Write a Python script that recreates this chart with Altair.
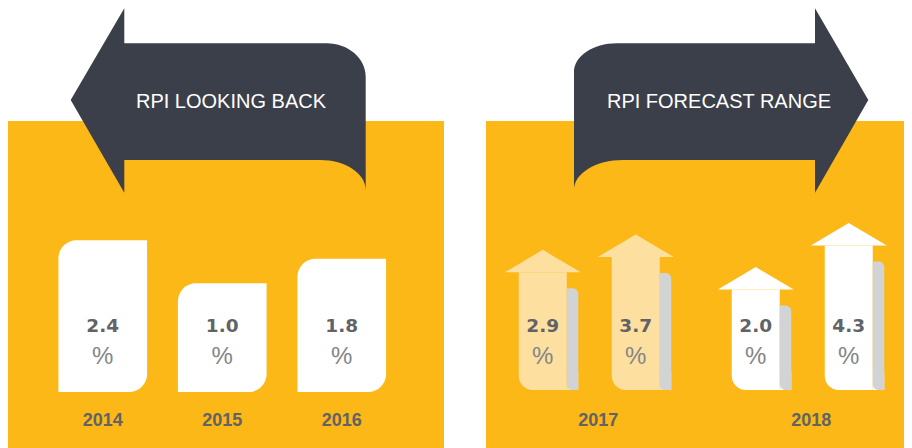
import altair as alt
import pandas as pd

# ---------------- data ----------------
titles = ["RPI LOOKING BACK", "RPI FORECAST RANGE"]
back_years = ["2014", "2015", "2016"]
back_values = [2.4, 1.0, 1.8]
fc_years = ["2017", "2017", "2018", "2018"]
fc_bounds = ["low", "high", "low", "high"]
fc_values = [2.9, 3.7, 2.0, 4.3]
fc_year_labels = ["2017", "2018"]

# ---------------- style ----------------
ORANGE = "#FBB817"
DARK = "#3B3F4A"
PALE = "#FDDFA0"
GREY = "#D1D3D4"
TEXT = "#616366"
PCT = "#838588"
SANS = "Liberation Sans, Arial, Helvetica, sans-serif"
NUMF = "DejaVu Sans"

LW, RW, H = 436, 418, 440
PANEL_TOP = 113

back = pd.DataFrame({"year": back_years, "value": back_values})
back["label"] = back["value"].map(lambda v: f"{v:.1f}")
back["pct"] = "%"
fc = pd.DataFrame({"year": fc_years, "bound": fc_bounds, "value": fc_values})
fc["label"] = fc["value"].map(lambda v: f"{v:.1f}")
fc["pct"] = "%"
fc_y = pd.DataFrame({"year": fc_year_labels})
one_l = pd.DataFrame({"t": [titles[0]]})
one_r = pd.DataFrame({"t": [titles[1]]})

# decorative banner outlines (pixel units, size=4 -> scale 1)
PATH_L = ("M 62.7 92 L 116.3 0.3 L 116.3 35.3 L 318.7 35.3 "
          "A 39 33.4 0 0 1 357.7 68.7 L 357.7 182 "
          "A 45.7 30 0 0 0 312 152 L 116.3 152 L 116.3 184.7 Z")
PATH_R = ("M 88 64 A 42.7 28.7 0 0 1 130.7 35.3 L 329 35.3 L 329 0.3 "
          "L 382.3 92 L 329 184.7 L 329 152 L 137 152 "
          "A 49 30 0 0 0 88 182 Z")
HEAD = "M -38 0 L 0 -22.5 L 38 0 Z"

# ---------------- left panel ----------------
xb = alt.X("year:N", axis=None,
           scale=alt.Scale(type="band", range=[35, 393.5],
                           paddingInner=0.258, paddingOuter=0.129))
yb = alt.Y("value:Q", axis=None, stack=None,
           scale=alt.Scale(domain=[-4.365, 9.967], zero=False, nice=False))

panel_l = alt.Chart(one_l).mark_rect(color=ORANGE).encode(
    x=alt.value(0), x2=alt.value(LW), y=alt.value(PANEL_TOP), y2=alt.value(H))
banner_l = alt.Chart(one_l).mark_point(
    shape=PATH_L, size=4, filled=True, opacity=1, color=DARK, strokeWidth=0
).encode(x=alt.value(0), y=alt.value(0))
title_l = alt.Chart(one_l).mark_text(
    font=SANS, fontSize=20, color="white", align="center", baseline="alphabetic"
).encode(x=alt.value(223), y=alt.value(100), text="t:N")
bars_l = alt.Chart(back).mark_bar(
    color="white", cornerRadiusTopLeft=18, cornerRadiusBottomRight=18
).encode(x=xb, y=yb, y2=alt.value(384))
val_l = alt.Chart(back).mark_text(
    font=NUMF, fontWeight="bold", fontSize=18.5, color=TEXT, baseline="alphabetic"
).encode(x=xb, y=alt.value(323.7), text="label:N")
pct_l = alt.Chart(back).mark_text(
    font=SANS, fontSize=24, color=PCT, baseline="alphabetic"
).encode(x=xb, y=alt.value(356), text="pct:N")
yr_l = alt.Chart(back).mark_text(
    font=SANS, fontWeight="bold", fontSize=18, color=TEXT, baseline="alphabetic"
).encode(x=xb, y=alt.value(418), text="year:N")

left = alt.layer(panel_l, banner_l, title_l, bars_l, val_l, pct_l, yr_l).properties(
    width=LW, height=H)

# ---------------- right panel ----------------
xr = alt.X("year:N", axis=None,
           scale=alt.Scale(type="band", range=[-3.25, 422.75],
                           paddingInner=0, paddingOuter=0))
yr = alt.Y("value:Q", axis=None, stack=None,
           scale=alt.Scale(domain=[-6.25, 16.67], zero=False, nice=False))


def off_shaft():
    return alt.XOffset("bound:N", sort=["low", "high"],
                       scale=alt.Scale(type="band", range=[13.5, 199.5],
                                       paddingInner=0.484, paddingOuter=0.242))


def off_grey():
    return alt.XOffset("bound:N", sort=["low", "high"],
                       scale=alt.Scale(type="band", range=[43.25, 229.25],
                                       paddingInner=0.876, paddingOuter=0.438))


col = alt.Color("year:N", legend=None,
                scale=alt.Scale(domain=fc_year_labels, range=[PALE, "#FFFFFF"]))

panel_r = alt.Chart(one_r).mark_rect(color=ORANGE).encode(
    x=alt.value(0), x2=alt.value(RW), y=alt.value(PANEL_TOP), y2=alt.value(H))
banner_r = alt.Chart(one_r).mark_point(
    shape=PATH_R, size=4, filled=True, opacity=1, color=DARK, strokeWidth=0
).encode(x=alt.value(0), y=alt.value(0))
title_r = alt.Chart(one_r).mark_text(
    font=SANS, fontSize=20, color="white", align="center", baseline="alphabetic"
).encode(x=alt.value(233), y=alt.value(100), text="t:N")
foot_r = alt.Chart(fc).mark_bar().encode(
    x=xr, xOffset=off_grey(), y=alt.value(364), y2=alt.value(382), color=col)
shaft_r = alt.Chart(fc).mark_bar(cornerRadiusBottomLeft=14).encode(
    x=xr, xOffset=off_shaft(), y=yr, y2=alt.value(382), color=col)
grey_r = alt.Chart(fc).mark_bar(
    color=GREY, yOffset=16, cornerRadiusTopRight=10, cornerRadiusBottomLeft=11
).encode(x=xr, xOffset=off_grey(), y=yr, y2=alt.value(382))
head_r = alt.Chart(fc).mark_point(
    shape=HEAD, size=4, filled=True, opacity=1, strokeWidth=0
).encode(x=xr, xOffset=off_shaft(), y=yr, color=col)
val_r = alt.Chart(fc).mark_text(
    font=NUMF, fontWeight="bold", fontSize=18.5, color=TEXT, baseline="alphabetic"
).encode(x=xr, xOffset=off_shaft(), y=alt.value(323.7), text="label:N")
pct_r = alt.Chart(fc).mark_text(
    font=SANS, fontSize=24, color=PCT, baseline="alphabetic"
).encode(x=xr, xOffset=off_shaft(), y=alt.value(356), text="pct:N")
yr_r = alt.Chart(fc_y).mark_text(
    font=SANS, fontWeight="bold", fontSize=18, color=TEXT, baseline="alphabetic", dx=9
).encode(x=xr, y=alt.value(418), text="year:N")

right = alt.layer(panel_r, banner_r, title_r, foot_r, shaft_r, grey_r, head_r,
                  val_r, pct_r, yr_r).resolve_scale(xOffset="independent").properties(
    width=RW, height=H)

chart = alt.hconcat(left, right, spacing=42).properties(
    padding=0, background="white").configure_view(stroke=None)

chart.save("out.html", embed_options={"renderer": "svg", "actions": False})
